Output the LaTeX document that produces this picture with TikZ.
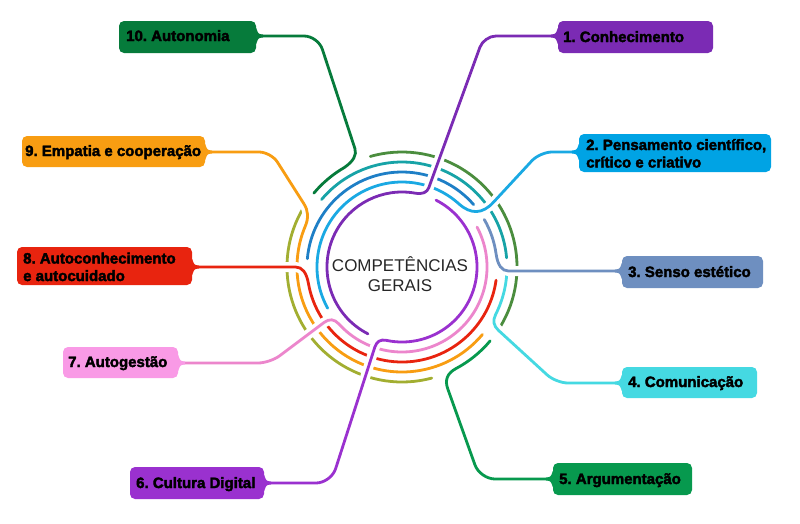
\documentclass[tikz,border=0pt]{standalone}
\usepackage{fontspec}
\setmainfont{Liberation Sans}
\newfontfamily\lblfont{Liberation Sans}[BoldFeatures={FakeBold=2.5}]
\usetikzlibrary{calc}
\pgfdeclarelayer{bg}
\pgfsetlayers{bg,main}
\frenchspacing
\definecolor{cA}{HTML}{7B2BB4}
\definecolor{cB}{HTML}{1AA9E3}
\definecolor{cBb}{HTML}{00A3E4}
\definecolor{cC}{HTML}{6E8FC0}
\definecolor{cD}{HTML}{45D9E2}
\definecolor{cE}{HTML}{07994E}
\definecolor{cF}{HTML}{9A31CF}
\definecolor{cG}{HTML}{EC86CC}
\definecolor{cGb}{HTML}{F99AE6}
\definecolor{cH}{HTML}{E8240F}
\definecolor{cI}{HTML}{F89D12}
\definecolor{cJ}{HTML}{067B3B}
\definecolor{dBlue}{HTML}{1E7FC6}
\definecolor{dTeal}{HTML}{17A3A7}
\definecolor{dGreen}{HTML}{4B8D3E}
\definecolor{dOlive}{HTML}{A2AE31}
\definecolor{ctext}{HTML}{262626}
\newcommand\flare[3]{\fill[#1] ($(#2)+(0,-8)$) .. controls ($(#2)+(#3*2,-2)$) .. ($(#2)+(#3*7,-1.4)$) -- ($(#2)+(#3*7,1.4)$) .. controls ($(#2)+(#3*2,2)$) .. ($(#2)+(0,8)$) -- cycle;}
\begin{document}
\frenchspacing
\begin{tikzpicture}[x=1pt,y=-1pt,
  ring/.style={draw=#1, line width=2.8pt, line cap=round},
  br/.style={draw=#1, line width=2.8pt, line cap=round, preaction={draw=white, line width=10pt, line cap=round}},
  bx/.style={fill=#1, rounded corners=5pt, draw=none, inner sep=0pt},
  lbl/.style={font=\lblfont\bfseries\fontsize{15}{17.5}\selectfont, text=black, inner sep=0pt, anchor=base west}]
\useasboundingbox (0,0) rectangle (800,523);
\coordinate (C) at (402,267);
% branch geometry
\coordinate (B1) at ($(C)+(-80:75)$);  \coordinate (V1) at (426.1,195.1); \coordinate (K1) at (484,36);  \coordinate (E1) at (562,36);  \coordinate (A1) at ($(V1)!8pt!(K1)$);
\coordinate (B2) at ($(C)+(-48:85)$);  \coordinate (V2) at (477,220);     \coordinate (K2) at (540,152); \coordinate (E2) at (583,152); \coordinate (A2) at ($(V2)!24pt!(K2)$);
\coordinate (B3) at ($(C)+(-8:95)$);   \coordinate (V3) at (498.5,271);   \coordinate (E3) at (626,271); \coordinate (A3) at ($(V3)!10pt!(E3)$);
\coordinate (B4) at ($(C)+(27:105)$);  \coordinate (V4) at (491.1,323.6); \coordinate (K4) at (556,383); \coordinate (E4) at (626,383); \coordinate (A4) at ($(V4)!10pt!(K4)$);
\coordinate (B5) at ($(C)+(62:115)$);  \coordinate (V5) at (443,375.5);   \coordinate (K5) at (480,479); \coordinate (E5) at (557,479); \coordinate (A5) at ($(V5)!14pt!(K5)$);
\coordinate (B6) at ($(C)+(-258:75)$); \coordinate (V6) at (377.6,338.5); \coordinate (K6) at (331,483); \coordinate (E6) at (260,483); \coordinate (A6) at ($(V6)!9pt!(K6)$);
\coordinate (B7) at ($(C)+(-222:85)$); \coordinate (V7) at (332,316.5);   \coordinate (K7) at (270,363); \coordinate (E7) at (174,363); \coordinate (A7) at ($(V7)!10pt!(K7)$);
\coordinate (B8) at ($(C)+(-190:95)$); \coordinate (V8) at (305.5,267);   \coordinate (E8) at (188,267); \coordinate (A8) at ($(V8)!10pt!(E8)$);
\coordinate (B9) at ($(C)+(-157:105)$); \coordinate (V9) at (310.4,214);  \coordinate (K9) at (271,152); \coordinate (E9) at (201,152); \coordinate (A9) at ($(V9)!12pt!(K9)$);
\coordinate (B10) at ($(C)+(-120:115)$); \coordinate (V10) at (358,158);  \coordinate (K10) at (318,36); \coordinate (E10) at (252,36); \coordinate (A10) at ($(V10)!10pt!(K10)$);

% boxes
\node[bx=cA, minimum width=155pt, minimum height=32pt] (b1) at (635.5,37) {};
\node[bx=cBb, minimum width=192pt, minimum height=38pt] (b2) at (675,153) {};
\node[bx=cC, minimum width=141pt, minimum height=32pt] (b3) at (692.5,272) {};
\node[bx=cD, minimum width=135pt, minimum height=31pt] (b4) at (689.5,382.5) {};
\node[bx=cE, minimum width=139pt, minimum height=32pt] (b5) at (622.5,479) {};
\node[bx=cF, minimum width=134pt, minimum height=32pt] (b6) at (197,483) {};
\node[bx=cGb, minimum width=115pt, minimum height=31pt] (b7) at (120.5,362.5) {};
\node[bx=cH, minimum width=175pt, minimum height=38pt] (b8) at (104.5,266) {};
\node[bx=cI, minimum width=183pt, minimum height=31pt] (b9) at (113.5,151.5) {};
\node[bx=cJ, minimum width=137pt, minimum height=32pt] (b10) at (187.5,37) {};
\coordinate (f1) at (b1.west |- E1); \flare{cA}{f1}{-1}
\coordinate (f2) at (b2.west |- E2); \flare{cBb}{f2}{-1}
\coordinate (f3) at (b3.west |- E3); \flare{cC}{f3}{-1}
\coordinate (f4) at (b4.west |- E4); \flare{cD}{f4}{-1}
\coordinate (f5) at (b5.west |- E5); \flare{cE}{f5}{-1}
\coordinate (f6) at (b6.east |- E6); \flare{cF}{f6}{1}
\coordinate (f7) at (b7.east |- E7); \flare{cGb}{f7}{1}
\coordinate (f8) at (b8.east |- E8); \flare{cH}{f8}{1}
\coordinate (f9) at (b9.east |- E9); \flare{cI}{f9}{1}
\coordinate (f10) at (b10.east |- E10); \flare{cJ}{f10}{1}

% labels
\node[lbl] (t1) at (563,42) {1. Conhecimento};
\node[lbl] (t2) at (586,150) {\begin{tabular}[t]{@{}l@{}}2. Pensamento científico,\\crítico e criativo\end{tabular}};
\node[lbl] (t3) at (628,277) {3. Senso estético};
\node[lbl] (t4) at (628,387) {4. Comunicação};
\node[lbl] (t5) at (559,484) {5. Argumentação};
\node[lbl] (t6) at (136,488) {6. Cultura Digital};
\node[lbl] (t7) at (68,367) {7. Autogestão};
\node[lbl] (t8) at (23,263.5) {\begin{tabular}[t]{@{}l@{}}8. Autoconhecimento\\e autocuidado\end{tabular}};
\node[lbl] (t9) at (25,156) {9. Empatia e cooperação};
\node[lbl] (t10) at (126,41) {10. Autonomia};
\node[font=\fontsize{17}{20}\selectfont, text=ctext, anchor=base, inner sep=0pt] (ctr) at (400,271) {\begin{tabular}[t]{@{}c@{}}COMPETÊNCIAS\\GERAIS\end{tabular}};

\begin{pgfonlayer}{bg}
% ring r=115
\draw[ring=dGreen] ($(C)+(31:115)$) arc[start angle=31, end angle=-106, radius=115];
\draw[ring=dOlive] ($(C)+(-149:115)$) arc[start angle=-149, end angle=-285, radius=115];
\draw[br=cJ] ($(C)+(-140:115)$) arc[start angle=-140, end angle=-120, radius=115] .. controls ($(B10)!0.667!(V10)$) and ($(A10)!0.667!(V10)$) .. (A10) [rounded corners=14pt] -- (K10) -- (E10);
\draw[br=cE] ($(C)+(40:115)$) arc[start angle=40, end angle=62, radius=115] .. controls ($(B5)!0.667!(V5)$) and ($(A5)!0.667!(V5)$) .. (A5) [rounded corners=15pt] -- (K5) -- (E5);
% ring r=105
\draw[ring=dTeal] ($(C)+(-5:105)$) arc[start angle=-5, end angle=-140, radius=105];
\draw[br=cD] ($(C)+(3:105)$) arc[start angle=3, end angle=27, radius=105] .. controls ($(B4)!0.667!(V4)$) and ($(A4)!0.667!(V4)$) .. (A4) [rounded corners=12pt] -- (K4) -- (E4);
\draw[br=cI] ($(C)+(-320:105)$) arc[start angle=-320, end angle=-157, radius=105] .. controls ($(B9)!0.667!(V9)$) and ($(A9)!0.667!(V9)$) .. (A9) [rounded corners=12pt] -- (K9) -- (E9);
% ring r=95
\draw[ring=dBlue] ($(C)+(-41:95)$) arc[start angle=-41, end angle=-175, radius=95];
\draw[br=cH] ($(C)+(-352:95)$) arc[start angle=-352, end angle=-190, radius=95] .. controls ($(B8)!0.667!(V8)$) and ($(A8)!0.667!(V8)$) .. (A8) -- (E8);
\draw[br=cC] ($(C)+(-30:95)$) arc[start angle=-30, end angle=-8, radius=95] .. controls ($(B3)!0.667!(V3)$) and ($(A3)!0.667!(V3)$) .. (A3) -- (E3);
% ring r=85
\draw[br=cB] ($(C)+(-209:85)$) arc[start angle=-209, end angle=-48, radius=85] .. controls ($(B2)!0.667!(V2)$) and ($(A2)!0.667!(V2)$) .. (A2) [rounded corners=12pt] -- (K2) -- (E2);
\draw[br=cG] ($(C)+(-388:85)$) arc[start angle=-388, end angle=-222, radius=85] .. controls ($(B7)!0.667!(V7)$) and ($(A7)!0.667!(V7)$) .. (A7) [rounded corners=12pt] -- (K7) -- (E7);
% ring r=75
\draw[br=cF] ($(C)+(-423:75)$) arc[start angle=-423, end angle=-258, radius=75] .. controls ($(B6)!0.667!(V6)$) and ($(A6)!0.667!(V6)$) .. (A6) [rounded corners=15pt] -- (K6) -- (E6);
\draw[br=cA] ($(C)+(-243:75)$) arc[start angle=-243, end angle=-80, radius=75] .. controls ($(B1)!0.667!(V1)$) and ($(A1)!0.667!(V1)$) .. (A1) [rounded corners=12pt] -- (K1) -- (E1);
\end{pgfonlayer}
\end{tikzpicture}
\end{document}
